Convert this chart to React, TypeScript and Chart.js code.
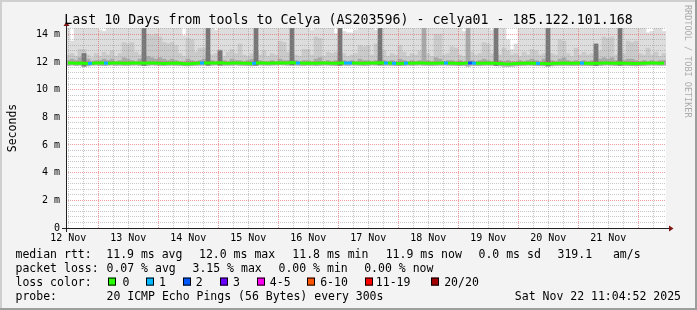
import React, { useEffect, useRef } from "react";
import { Chart, registerables } from "chart.js";

Chart.register(...registerables);

// ---------- text ----------
const TITLE = "Last 10 Days from tools to Celya (AS203596) - celya01 - 185.122.101.168";
const Y_TITLE = "Seconds";
const WATERMARK = "RRDTOOL / TOBI OETIKER";

// ---------- axes ----------
// x: hours since Sat Nov 12 11:04:52 (10 day window)
const SPAN_HOURS = 240;
const FIRST_NOON = 0.919; // Nov 12 12:00
const dayLabels = ["12 Nov", "13 Nov", "14 Nov", "15 Nov", "16 Nov", "17 Nov", "18 Nov", "19 Nov", "20 Nov", "21 Nov"];
const yTicks = [0, 2, 4, 6, 8, 10, 12, 14];
const yTickLabels = ["0", "2 m", "4 m", "6 m", "8 m", "10 m", "12 m", "14 m"];
const Y_MAX = 14.45;
const COL_HOURS = 1.6; // one smoke column = 96 minutes

// ---------- data (ms) ----------
const smokeLow = [
  11.76, 11.78, 11.75, 11.77, 11.70, 11.72, 11.77, 11.78, 11.76, 11.74,
  11.77, 11.78, 11.76, 11.77, 11.75, 11.76, 11.77, 11.78, 11.76, 11.74,
  11.76, 11.78, 11.77, 11.75, 11.74, 11.76, 11.77, 11.76, 11.75, 11.73,
  11.72, 11.74, 11.76, 11.77, 11.78, 11.76, 11.77, 11.78, 11.77, 11.76,
  11.76, 11.77, 11.78, 11.76, 11.75, 11.74, 11.72, 11.76, 11.78, 11.77,
  11.76, 11.77, 11.78, 11.79, 11.78, 11.77, 11.78, 11.77, 11.76, 11.75,
  11.77, 11.76, 11.74, 11.76, 11.78, 11.77, 11.76, 11.74, 11.76, 11.77,
  11.76, 11.78, 11.77, 11.76, 11.74, 11.76, 11.78, 11.77, 11.78, 11.77,
  11.77, 11.76, 11.74, 11.73, 11.75, 11.77, 11.76, 11.77, 11.78, 11.76,
  11.76, 11.75, 11.76, 11.77, 11.78, 11.77, 11.76, 11.75, 11.73, 11.74,
  11.70, 11.76, 11.75, 11.74, 11.76, 11.77, 11.76, 11.74, 11.72, 11.70,
  11.69, 11.70, 11.72, 11.74, 11.75, 11.77, 11.76, 11.74, 11.73, 11.72,
  11.71, 11.72, 11.74, 11.75, 11.76, 11.75, 11.74, 11.75, 11.76, 11.75,
  11.74, 11.73, 11.74, 11.75, 11.77, 11.78, 11.76, 11.74, 11.76, 11.75,
  11.74, 11.73, 11.72, 11.74, 11.75, 11.77, 11.78, 11.77, 11.76, 11.77,
];
const smokeMax = [
  15, 13.5, 15, 15, 15, 15, 15, 15, 14.3, 14.2,
  15, 15, 15, 15, 15, 15, 15, 15, 15, 15,
  15, 15, 15, 15, 15, 15, 15, 15, 15, 13.9,
  15, 15, 15, 15, 15, 15, 15, 14.3, 15, 15,
  15, 15, 15, 15, 15, 15, 15, 15, 15, 15,
  15, 15, 15, 15, 15, 15, 15, 15, 15, 15,
  15, 14.3, 15, 15, 15, 15, 15, 14.05, 15, 14.2,
  14.1, 14.1, 14.3, 15, 15, 15, 15, 14.3, 15, 15,
  15, 15, 15, 15, 15, 15, 15, 15, 15, 15,
  15, 15, 15, 15, 15, 15, 15, 15, 15, 14.2,
  14.0, 15, 15, 15, 15, 15, 14.3, 15, 15, 15,
  13.6, 12.9, 13.3, 15, 15, 15, 15, 15, 15, 15,
  15, 15, 15, 15, 15, 15, 15, 15, 15, 15,
  15, 15, 15, 15, 15, 15, 15, 15, 15, 15,
  15, 15, 15, 15, 15, 14.1, 14.2, 15, 15, 14.2,
];
const smokeP2 = [
  12.5, 12.6, 12.4, 12.9, 12.9, 12.5, 12.3, 12.6, 12.4, 12.7,
  12.5, 12.8, 12.4, 12.6, 13.4, 13.3, 13.4, 12.7, 12.5, 12.9,
  14.0, 13.9, 14.0, 13.8, 13.4, 13.3, 13.4, 13.2, 12.6, 12.4,
  13.7, 13.6, 12.7, 13.0, 13.0, 12.8, 12.5, 12.6, 12.9, 12.4,
  12.7, 12.9, 12.6, 13.3, 12.5, 12.4, 12.6, 12.8, 12.5, 12.8,
  12.4, 12.6, 12.5, 13.5, 13.4, 12.7, 12.9, 12.5, 12.4, 12.9,
  12.9, 12.5, 13.8, 13.7, 12.4, 12.7, 12.6, 12.7, 12.5, 12.6,
  12.4, 12.5, 12.6, 13.2, 13.1, 13.2, 12.5, 13.3, 12.9, 12.8,
  12.4, 12.6, 12.5, 13.2, 12.7, 12.4, 12.6, 12.5, 12.8, 13.8,
  12.6, 12.4, 14.0, 14.0, 12.5, 12.6, 13.1, 13.0, 12.5, 12.4,
  13.5, 12.7, 12.5, 12.6, 13.4, 13.3, 12.6, 12.9, 12.5, 13.0,
  12.8, 12.5, 12.6, 12.4, 12.7, 12.5, 12.9, 12.8, 12.5, 12.6,
  13.2, 12.6, 12.5, 13.6, 13.5, 12.6, 12.4, 13.0, 12.5, 12.7,
  12.5, 12.6, 13.2, 12.8, 13.8, 13.7, 13.8, 12.5, 13.0, 12.6,
  13.5, 13.4, 13.5, 12.6, 12.5, 13.0, 12.5, 12.7, 12.4, 12.6,
];
const smokeP3 = [
  12.1, 12.2, 12.1, 12.3, 12.6, 12.2, 12.0, 12.1, 12.1, 12.2,
  12.1, 12.2, 12.0, 12.1, 12.3, 12.2, 12.1, 12.0, 12.2, 12.6,
  12.4, 12.3, 12.2, 12.3, 12.2, 12.1, 12.2, 12.1, 12.0, 12.0,
  12.2, 12.1, 12.0, 12.1, 12.2, 12.6, 12.1, 12.0, 12.8, 12.1,
  12.0, 12.2, 12.1, 12.1, 12.0, 12.1, 12.2, 12.8, 12.1, 12.0,
  12.0, 12.1, 12.0, 12.2, 12.1, 12.1, 12.5, 12.1, 12.0, 12.1,
  12.1, 12.0, 12.2, 12.3, 12.0, 12.1, 12.0, 12.1, 12.6, 12.1,
  12.0, 12.1, 12.0, 12.2, 12.1, 12.1, 12.0, 12.1, 12.5, 12.1,
  12.0, 12.1, 12.0, 12.2, 12.1, 12.0, 12.1, 12.0, 12.1, 15,
  12.1, 12.0, 12.3, 12.2, 12.0, 12.1, 12.1, 12.0, 12.1, 12.0,
  15, 12.1, 12.0, 12.1, 12.2, 12.1, 12.0, 12.6, 12.1, 12.0,
  12.1, 12.0, 12.0, 12.1, 12.0, 12.1, 12.2, 12.1, 12.0, 12.2,
  12.6, 12.1, 12.0, 12.2, 12.3, 12.1, 12.0, 12.1, 12.0, 12.1,
  12.0, 12.1, 12.6, 12.2, 12.3, 12.2, 12.3, 12.1, 12.6, 12.1,
  12.2, 12.2, 12.1, 12.0, 12.1, 12.0, 12.1, 12.0, 12.1, 12.1,
];
const spikeCols = [4, 19, 35, 38, 47, 56, 68, 78, 107, 120, 132, 138];
const spikeTops = [12.6, 15, 15, 12.8, 15, 15, 15, 15, 15, 15, 13.3, 15];
const median = [
  11.92, 11.93, 11.91, 11.92, 11.90, 11.88, 11.90, 11.92, 11.93, 11.92,
  11.91, 11.92, 11.93, 11.92, 11.91, 11.90, 11.92, 11.93, 11.92, 11.91,
  11.92, 11.93, 11.92, 11.90, 11.89, 11.90, 11.91, 11.92, 11.90, 11.87,
  11.86, 11.88, 11.90, 11.92, 11.93, 11.92, 11.93, 11.92, 11.94, 11.92,
  11.91, 11.92, 11.93, 11.92, 11.91, 11.90, 11.88, 11.92, 11.93, 11.92,
  11.91, 11.92, 11.93, 11.94, 11.93, 11.92, 11.95, 11.93, 11.92, 11.91,
  11.92, 11.91, 11.90, 11.92, 11.93, 11.92, 11.91, 11.90, 11.92, 11.93,
  11.92, 11.93, 11.92, 11.91, 11.90, 11.92, 11.93, 11.92, 11.94, 11.93,
  11.92, 11.91, 11.90, 11.89, 11.90, 11.92, 11.91, 11.92, 11.93, 11.92,
  11.91, 11.90, 11.91, 11.92, 11.93, 11.92, 11.91, 11.90, 11.88, 11.90,
  11.93, 11.92, 11.91, 11.90, 11.91, 11.92, 11.91, 11.90, 11.88, 11.86,
  11.85, 11.86, 11.88, 11.90, 11.91, 11.92, 11.91, 11.90, 11.89, 11.88,
  11.87, 11.88, 11.90, 11.91, 11.92, 11.91, 11.90, 11.91, 11.92, 11.91,
  11.90, 11.89, 11.90, 11.91, 11.92, 11.93, 11.91, 11.90, 11.92, 11.91,
  11.90, 11.89, 11.88, 11.90, 11.91, 11.92, 11.93, 11.92, 11.91, 11.92,
];
const lossCols = [5, 9, 33, 46, 57, 69, 70, 79, 81, 84, 94, 100, 101, 117, 128];
const lossCounts = [1, 1, 1, 1, 1, 1, 1, 1, 1, 1, 1, 2, 1, 1, 1];

// ---------- legend ----------
const lossLegend = ["0", "1", "2", "3", "4-5", "6-10", "11-19", "20/20"];
const lossColors = ["#26ff00", "#00b8ff", "#0059ff", "#6a00ff", "#ff00ee", "#ff5500", "#ff0000", "#a10000"];
const legendRtt = ["11.9 ms avg", "12.0 ms max", "11.8 ms min", "11.9 ms now", "0.0 ms sd", "319.1   am/s"];
const legendLoss = ["0.07 % avg", "3.15 % max", "0.00 % min", "0.00 % now"];
const probeText = "20 ICMP Echo Pings (56 Bytes) every 300s";
const stampText = "Sat Nov 22 11:04:52 2025";

// ---------- layout / style (not data) ----------
const W = 697;
const H = 310;
const PLOT_LEFT = 66;
const PLOT_RIGHT = 666;
const PLOT_TOP = 28;
const PLOT_BOTTOM = 228;
const MONO = '"DejaVu Sans Mono", monospace';
const RTT_X = [106.3, 199, 292.3, 385.7, 478.5, 557.5];
const LOSS_X = [106.5, 192.5, 278.5, 364.2];
const BOX_X = [108, 146, 183, 220, 257, 307, 365, 431];
const BOX_LABEL_X = [122.5, 159, 195.8, 233, 269.8, 320.2, 375.8, 444.2];
const BASE = [258.3, 272.2, 286.1, 300];

const lossClass = (n: number) => {
  if (n <= 3) return n;
  if (n <= 5) return 4;
  if (n <= 10) return 5;
  if (n <= 19) return 6;
  return 7;
};
const lossAt = (i: number) => {
  const k = lossCols.indexOf(i);
  return k < 0 ? 0 : lossCounts[k];
};
const colTime = (i: number) => (i + 0.5) * COL_HOURS;

function drawGrid(chart: any) {
  const { ctx, chartArea: a, scales } = chart;
  const xs = scales.x;
  const ys = scales.y;
  ctx.save();
  ctx.beginPath();
  ctx.rect(a.left, a.top, a.right - a.left, a.bottom - a.top);
  ctx.clip();
  ctx.lineWidth = 1;
  ctx.setLineDash([1, 1]);
  // minor
  ctx.strokeStyle = "rgba(143,143,143,0.5)";
  ctx.beginPath();
  for (let k = 0; FIRST_NOON + 6 * k < SPAN_HOURS; k++) {
    if (k % 4 === 2) continue;
    const px = Math.floor(xs.getPixelForValue(FIRST_NOON + 6 * k)) + 0.5;
    ctx.moveTo(px, a.bottom);
    ctx.lineTo(px, a.top);
  }
  for (let j = 1; j * 0.4 < Y_MAX; j++) {
    if (j % 5 === 0) continue;
    const py = Math.floor(ys.getPixelForValue(j * 0.4)) + 0.5;
    ctx.moveTo(a.left, py);
    ctx.lineTo(a.right, py);
  }
  ctx.stroke();
  // major
  ctx.strokeStyle = "rgba(222,80,80,0.55)";
  ctx.beginPath();
  for (let k = 0; FIRST_NOON + 12 + 24 * k < SPAN_HOURS; k++) {
    const px = Math.floor(xs.getPixelForValue(FIRST_NOON + 12 + 24 * k)) + 0.5;
    ctx.moveTo(px, a.bottom);
    ctx.lineTo(px, a.top);
  }
  for (const v of yTicks) {
    if (v === 0) continue;
    const py = Math.floor(ys.getPixelForValue(v)) + 0.5;
    ctx.moveTo(a.left, py);
    ctx.lineTo(a.right, py);
  }
  ctx.stroke();
  ctx.restore();
}

const rrdPlugin = {
  id: "rrdFrame",
  beforeDraw(chart: any) {
    const { ctx, chartArea: a } = chart;
    ctx.save();
    ctx.fillStyle = "#f3f3f3";
    ctx.fillRect(0, 0, W, H);
    ctx.fillStyle = "#cfcfcf";
    ctx.fillRect(0, 0, W, 2);
    ctx.fillRect(0, 0, 2, H);
    ctx.fillStyle = "#9e9e9e";
    ctx.fillRect(0, H - 2, W, 2);
    ctx.fillRect(W - 2, 0, 2, H);
    ctx.fillStyle = "#ffffff";
    ctx.fillRect(a.left, a.top, a.right - a.left, a.bottom - a.top);
    ctx.restore();
  },
  beforeDatasetDraw(chart: any, args: any) {
    if (args.meta.type === "line") drawGrid(chart);
  },
  afterDraw(chart: any) {
    const { ctx, chartArea: a } = chart;
    ctx.save();
    // axes
    ctx.strokeStyle = "#202020";
    ctx.lineWidth = 1;
    ctx.beginPath();
    ctx.moveTo(a.left - 4, a.bottom + 0.5);
    ctx.lineTo(a.right + 4, a.bottom + 0.5);
    ctx.moveTo(a.left + 0.5, a.bottom + 4);
    ctx.lineTo(a.left + 0.5, a.top - 3);
    ctx.stroke();
    ctx.fillStyle = "#7f1414";
    ctx.beginPath();
    ctx.moveTo(a.right + 3, a.bottom - 2.5);
    ctx.lineTo(a.right + 7.5, a.bottom + 0.5);
    ctx.lineTo(a.right + 3, a.bottom + 3.5);
    ctx.closePath();
    ctx.fill();
    ctx.beginPath();
    ctx.moveTo(a.left - 2.5, a.top - 2);
    ctx.lineTo(a.left + 0.5, a.top - 6.5);
    ctx.lineTo(a.left + 3.5, a.top - 2);
    ctx.closePath();
    ctx.fill();

    // title
    ctx.fillStyle = "#000";
    ctx.textBaseline = "alphabetic";
    ctx.font = `13.3px ${MONO}`;
    ctx.textAlign = "center";
    ctx.fillText(TITLE, W / 2, 24);

    // y title
    ctx.save();
    ctx.font = `11.5px ${MONO}`;
    ctx.translate(15.5, (a.top + a.bottom) / 2);
    ctx.rotate(-Math.PI / 2);
    ctx.textAlign = "center";
    ctx.fillText(Y_TITLE, 0, 0);
    ctx.restore();

    // watermark
    ctx.save();
    ctx.font = `8.5px ${MONO}`;
    ctx.fillStyle = "#ababab";
    ctx.translate(685, 5);
    ctx.rotate(Math.PI / 2);
    ctx.textAlign = "left";
    ctx.fillText(WATERMARK, 0, 0);
    ctx.restore();

    // legend
    ctx.font = `11.5px ${MONO}`;
    ctx.textAlign = "left";
    ctx.fillStyle = "#000";
    ctx.fillText("median rtt:", 15.5, BASE[0]);
    legendRtt.forEach((s, i) => ctx.fillText(s, RTT_X[i], BASE[0]));
    ctx.fillText("packet loss:", 15.5, BASE[1]);
    legendLoss.forEach((s, i) => ctx.fillText(s, LOSS_X[i], BASE[1]));
    ctx.fillText("loss color:", 15.5, BASE[2]);
    lossLegend.forEach((s, i) => {
      ctx.fillStyle = lossColors[i];
      ctx.fillRect(BOX_X[i], BASE[2] - 8.5, 8, 8);
      ctx.strokeStyle = "#000";
      ctx.lineWidth = 1;
      ctx.strokeRect(BOX_X[i] + 0.5, BASE[2] - 8, 7, 7);
      ctx.fillStyle = "#000";
      ctx.fillText(s, BOX_LABEL_X[i], BASE[2]);
    });
    ctx.fillText("probe:", 15.5, BASE[3]);
    ctx.fillText(probeText, 106.5, BASE[3]);
    ctx.textAlign = "right";
    ctx.fillText(stampText, 681, BASE[3]);
    ctx.restore();
  },
};

export default function App() {
  const ref = useRef<HTMLCanvasElement>(null);
  useEffect(() => {
    const canvas = ref.current;
    if (!canvas) return;
    const barDefaults = {
      type: "bar" as const,
      borderWidth: 0,
      barPercentage: 1,
      categoryPercentage: 1,
      grouped: false,
    };
    const chart = new Chart(canvas, {
      type: "bar",
      data: {
        datasets: [
          {
            ...barDefaults,
            label: "max",
            data: smokeMax.map((v, i) => ({ x: colTime(i), y: [smokeLow[i], v] })),
            backgroundColor: "#dddddd",
            order: 4,
          },
          {
            ...barDefaults,
            label: "p2",
            data: smokeP2.map((v, i) => ({ x: colTime(i), y: [smokeLow[i], v] })),
            backgroundColor: "#cacaca",
            order: 3,
          },
          {
            ...barDefaults,
            label: "p3",
            data: smokeP3.map((v, i) => ({ x: colTime(i), y: [smokeLow[i], v] })),
            backgroundColor: "#a8a8a8",
            order: 2,
          },
          {
            ...barDefaults,
            label: "spikes",
            data: spikeCols.map((c, k) => ({ x: colTime(c), y: [smokeLow[c], spikeTops[k]] })),
            backgroundColor: "#777777",
            order: 1,
          },
          {
            type: "line" as const,
            label: "median rtt",
            data: median.map((v, i) => ({ x: colTime(i), y: v })),
            borderColor: lossColors[0],
            borderWidth: 3,
            pointRadius: 0,
            tension: 0,
            order: 0,
            segment: {
              borderColor: (c: any) => lossColors[lossClass(lossAt(c.p0DataIndex))],
            },
          },
        ] as any,
      },
      options: {
        responsive: false,
        animation: false,
        devicePixelRatio: 1,
        events: [],
        layout: {
          padding: { left: 0, top: PLOT_TOP, right: W - PLOT_RIGHT, bottom: H - PLOT_BOTTOM - 20 },
        },
        plugins: { legend: { display: false }, tooltip: { enabled: false }, title: { display: false } },
        scales: {
          x: {
            type: "linear",
            min: 0,
            max: SPAN_HOURS,
            offset: false,
            bounds: "data",
            grid: { display: false, drawTicks: false, tickLength: 0 },
            border: { display: false },
            ticks: {
              autoSkip: false,
              maxRotation: 0,
              padding: 4,
              color: "#000",
              font: { family: MONO, size: 10 },
              callback: (_v: any, i: number) => dayLabels[i],
            },
            afterBuildTicks: (s: any) => {
              s.ticks = dayLabels.map((_, i) => ({ value: FIRST_NOON + 24 * i }));
            },
            afterFit: (s: any) => {
              s.height = 20;
            },
          },
          y: {
            type: "linear",
            min: 0,
            max: Y_MAX,
            bounds: "data",
            grid: { display: false, drawTicks: false, tickLength: 0 },
            border: { display: false },
            ticks: {
              autoSkip: false,
              padding: 6,
              color: "#000",
              font: { family: MONO, size: 10 },
              callback: (_v: any, i: number) => yTickLabels[i],
            },
            afterBuildTicks: (s: any) => {
              s.ticks = yTicks.map((v) => ({ value: v }));
            },
            afterFit: (s: any) => {
              s.width = PLOT_LEFT;
            },
          },
        },
      } as any,
      plugins: [rrdPlugin],
    });
    return () => chart.destroy();
  }, []);
  return (
    <div style={{ position: "fixed", left: 0, top: 0, width: W, height: H }}>
      <canvas ref={ref} width={W} height={H} style={{ width: W, height: H, display: "block" }} />
    </div>
  );
}
